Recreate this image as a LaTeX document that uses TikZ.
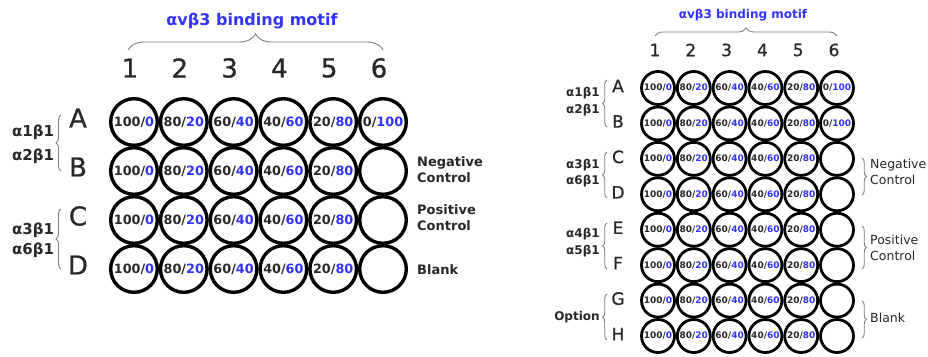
\documentclass[tikz,border=0pt]{standalone}
\usepackage{fontspec}
\setmainfont{DejaVu Sans}
\newfontfamily\platefont[FakeBold=0.8]{DejaVu Sans}
\usetikzlibrary{positioning,decorations.pathreplacing}
\definecolor{motifblue}{RGB}{51,51,255}
\definecolor{darktext}{RGB}{40,40,40}
\definecolor{bracegray}{RGB}{125,125,125}
\newcommand{\ratio}[2]{#1/\textcolor{motifblue}{#2}}
\tikzset{
	well/.style={circle, draw=black, line width=3.4pt, minimum size=46.6pt, inner sep=0pt, text=darktext, font=\bfseries\fontsize{12.8}{12.8}\selectfont},
	miniwell/.style={circle, draw=black, line width=2.8pt, minimum size=33pt, inner sep=0pt, text=darktext, font=\bfseries\fontsize{9}{9}\selectfont},
	bigdigit/.style={inner sep=0pt, text=darktext, font=\platefont\fontsize{26}{26}\selectfont},
	smalldigit/.style={inner sep=0pt, text=darktext, font=\platefont\fontsize{17}{17}\selectfont},
	motif/.style={inner sep=0pt, text=motifblue, font=\bfseries\fontsize{16}{16}\selectfont},
	minimotif/.style={inner sep=0pt, text=motifblue, font=\bfseries\fontsize{12}{12}\selectfont},
	pairlabel/.style={inner sep=0pt, text=darktext, font=\bfseries\fontsize{15}{15}\selectfont},
	minipair/.style={inner sep=0pt, text=darktext, font=\bfseries\fontsize{12}{12}\selectfont},
	sidelabel/.style={inner sep=0pt, anchor=west, align=left, text=darktext, font=\bfseries\fontsize{13}{16}\selectfont},
	minisidelabel/.style={inner sep=0pt, anchor=west, align=left, text=darktext, font=\fontsize{12.5}{15.5}\selectfont},
	curly/.style={draw=bracegray, line width=0.9pt, decorate, decoration={brace, amplitude=#1}},
	curly/.default=5pt
}
\begin{document}
\begin{tikzpicture}[x=1pt, y=-1pt]
	\useasboundingbox (0,0) rectangle (928,356);

	% 24 well plate
	\node[motif] (Ltitle) at (252,21) {αvβ3 binding motif};
	\coordinate (Lmotif-w) at (128,50);
	\coordinate (Lmotif-e) at (383,50);
	\draw[curly=16pt] (Lmotif-w) -- (Lmotif-e);
	\foreach \col in {1,...,6}
		\node[bigdigit] (Lc\col) at ({130+49.8*(\col-1)},68) {\col};
	\foreach \row [count=\i from 0] in {A,B,C,D}{
		\node[bigdigit] (Lr\row) at (78,{118+49*\i}) {\row};
		\foreach \col [evaluate=\col as \blk using int(120-20*\col), evaluate=\col as \blu using int(20*\col-20)] in {1,...,6}{
			\def\txt{\ratio{\blk}{\blu}}
			\ifnum\col=6 \ifnum\i>0 \def\txt{}\fi\fi
			\node[well] (L-\row\col) at ({134+49.8*(\col-1)},{122+49*\i}) {\txt};
		}
	}
	\node[pairlabel] (Lp1) at (33,132) {α1β1};
	\node[pairlabel] (Lp2) at (33,156) {α2β1};
	\node[pairlabel] (Lp3) at (33,230) {α3β1};
	\node[pairlabel] (Lp6) at (33,250) {α6β1};
	\coordinate (Lab-s) at (61,171);
	\coordinate (Lab-n) at (61,115);
	\coordinate (Lcd-s) at (61,269);
	\coordinate (Lcd-n) at (61,209);
	\draw[curly] (Lab-s) -- (Lab-n);
	\draw[curly] (Lcd-s) -- (Lcd-n);
	\node[sidelabel] (Lneg) at (417,170) {Negative\\Control};
	\node[sidelabel] (Lpos) at (417,218) {Positive\\Control};
	\node[sidelabel] (Lblank) at (417,270) {Blank};

	% 48 well plate
	\node[minimotif] (Rtitle) at (743,15) {αvβ3 binding motif};
	\coordinate (Rmotif-w) at (655,36);
	\coordinate (Rmotif-e) at (837,36);
	\draw[curly=8pt] (Rmotif-w) -- (Rmotif-e);
	\foreach \col in {1,...,6}
		\node[smalldigit] (Rc\col) at ({655+35.8*(\col-1)},50) {\col};
	\foreach \row [count=\i from 0] in {A,B,C,D,E,F,G,H}{
		\node[smalldigit] (Rr\row) at (618,{86+35.43*\i}) {\row};
		\foreach \col [evaluate=\col as \blk using int(120-20*\col), evaluate=\col as \blu using int(20*\col-20)] in {1,...,6}{
			\def\txt{\ratio{\blk}{\blu}}
			\ifnum\col=6 \ifnum\i>1 \def\txt{}\fi\fi
			\node[miniwell] (R-\row\col) at ({658+35.8*(\col-1)},{88+35.43*\i}) {\txt};
		}
	}
	\node[minipair] (Rp1) at (583,93) {α1β1};
	\node[minipair] (Rp2) at (583,110) {α2β1};
	\node[minipair] (Rp3) at (583,165) {α3β1};
	\node[minipair] (Rp6) at (583,181) {α6β1};
	\node[minipair] (Rp4) at (583,234) {α4β1};
	\node[minipair] (Rp5) at (583,251) {α5β1};
	\node[minipair] (Ropt) at (577,317) {Option};
	\foreach \top/\bot [count=\k] in {80/127,152/198,223/269,294/340}{
		\coordinate (Rrows\k-n) at (607,\top);
		\coordinate (Rrows\k-s) at (607,\bot);
		\draw[curly=4.5pt] (Rrows\k-s) -- (Rrows\k-n);
	}
	\foreach \top/\bot [count=\k] in {158/195,226/269,301/338}{
		\coordinate (Rside\k-n) at (862,\top);
		\coordinate (Rside\k-s) at (862,\bot);
		\draw[curly=4.5pt] (Rside\k-n) -- (Rside\k-s);
	}
	\node[minisidelabel] (Rneg) at (870,172) {Negative\\Control};
	\node[minisidelabel] (Rpos) at (870,248) {Positive\\Control};
	\node[minisidelabel] (Rblank) at (870,318) {Blank};
\end{tikzpicture}
\end{document}
